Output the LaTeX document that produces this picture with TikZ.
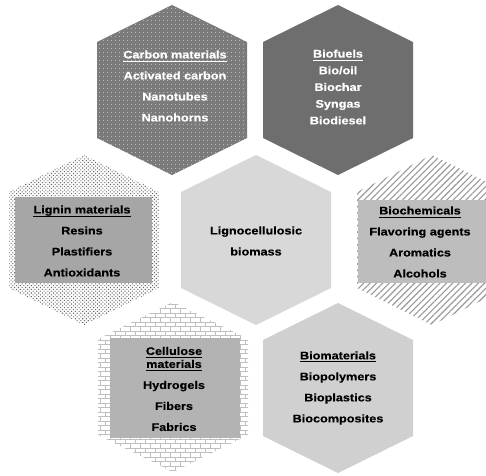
\documentclass[tikz,border=0pt]{standalone}
\usepackage{fontspec}
\setmainfont{Liberation Sans}
\newfontfamily\lbl[FakeStretch=1.15, BoldFeatures={FakeBold=0.4}]{Liberation Sans}
\usetikzlibrary{patterns,patterns.meta}

% running-bond brick tile
\pgfdeclarepatternformonly{wallbricks}{\pgfqpoint{-1pt}{-1pt}}{\pgfqpoint{11pt}{10pt}}{\pgfqpoint{10pt}{9pt}}{%
  \pgfsetlinewidth{0.7pt}%
  \pgfpathmoveto{\pgfqpoint{0pt}{0pt}}\pgfpathlineto{\pgfqpoint{10pt}{0pt}}%
  \pgfpathmoveto{\pgfqpoint{0pt}{4.5pt}}\pgfpathlineto{\pgfqpoint{10pt}{4.5pt}}%
  \pgfpathmoveto{\pgfqpoint{0pt}{0pt}}\pgfpathlineto{\pgfqpoint{0pt}{4.5pt}}%
  \pgfpathmoveto{\pgfqpoint{5pt}{4.5pt}}\pgfpathlineto{\pgfqpoint{5pt}{9pt}}%
  \pgfusepath{stroke}}

\definecolor{carbonfill}{HTML}{7B7B7B}
\definecolor{fuelfill}{HTML}{6E6E6E}
\definecolor{ligninbox}{HTML}{A6A6A6}
\definecolor{chembox}{HTML}{BDBDBD}
\definecolor{cellbox}{HTML}{B3B3B3}
\definecolor{matfill}{HTML}{D0D0D0}
\definecolor{corefill}{HTML}{D8D8D8}

% pointy-topped hexagon around (#1,#2), picture units are pixels, y downwards
\newcommand{\hexoutline}[2]{(#1,#2-85) -- (#1+75,#2-48) -- (#1+75,#2+48) -- (#1,#2+85) -- (#1-75,#2+48) -- (#1-75,#2-48) -- cycle}
% underlined heading
\newcommand{\head}[1]{\setbox0\hbox{#1}\leavevmode\rlap{\rule[-3pt]{\wd0}{0.9pt}}\box0}

\tikzset{
  lbltxt/.style={align=center, inner sep=0pt,
    font=\lbl\bfseries\fontsize{11}{21}\selectfont},
  darktxt/.style={lbltxt, text=white},
  lighttxt/.style={lbltxt, text=black},
}

\begin{document}
\begin{tikzpicture}[x=1pt, y=-1pt]
  \useasboundingbox (0,0) rectangle (486,475);
  \clip (0,0) rectangle (486,475);
  \fill[white] (0,0) rectangle (486,475);

  % top row
  \fill[carbonfill] \hexoutline{172}{90};
  \fill[pattern={Dots[radius=0.55pt, distance=4pt]}, pattern color=white!85!carbonfill] \hexoutline{172}{90};
  \fill[fuelfill] \hexoutline{338}{90};

  % middle row
  \fill[pattern={Dots[radius=0.75pt, distance=2.6pt, angle=45]}, pattern color=black!60] \hexoutline{84}{240};
  \fill[ligninbox] (15,197) rectangle (152,283);
  \fill[corefill] \hexoutline{256}{240};
  \fill[pattern={Lines[angle=45, distance=4.5pt, line width=1.1pt]}, pattern color=black!40] \hexoutline{432}{240};
  \fill[chembox] (358,200) rectangle (490,283);

  % bottom row
  \fill[pattern=wallbricks, pattern color=black!25] \hexoutline{173}{387};
  \fill[cellbox] (110,338) rectangle (240,438);
  \fill[matfill] \hexoutline{338}{388};

  % labels
  \node[darktxt] (carbon) at (175,86) {\head{Carbon materials}\\Activated carbon\\Nanotubes\\Nanohorns};
  \node[darktxt, font=\lbl\bfseries\fontsize{11}{16.7}\selectfont] (fuels) at (338,87) {\head{Biofuels}\\Bio/oil\\Biochar\\Syngas\\Biodiesel};
  \node[lighttxt] (lignin) at (82,241) {\head{Lignin materials}\\Resins\\Plastifiers\\Antioxidants};
  \node[lighttxt] (core) at (256,241) {Lignocellulosic\\biomass};
  \node[lighttxt] (chem) at (420,242) {\head{Biochemicals}\\Flavoring agents\\Aromatics\\Alcohols};
  \node[lighttxt] (cell) at (174,389) {\head{Cellulose}\\[-8pt]\head{materials}\\Hydrogels\\Fibers\\Fabrics};
  \node[lighttxt] (mat) at (338,388) {\head{Biomaterials}\\Biopolymers\\Bioplastics\\Biocomposites};
\end{tikzpicture}
\end{document}
